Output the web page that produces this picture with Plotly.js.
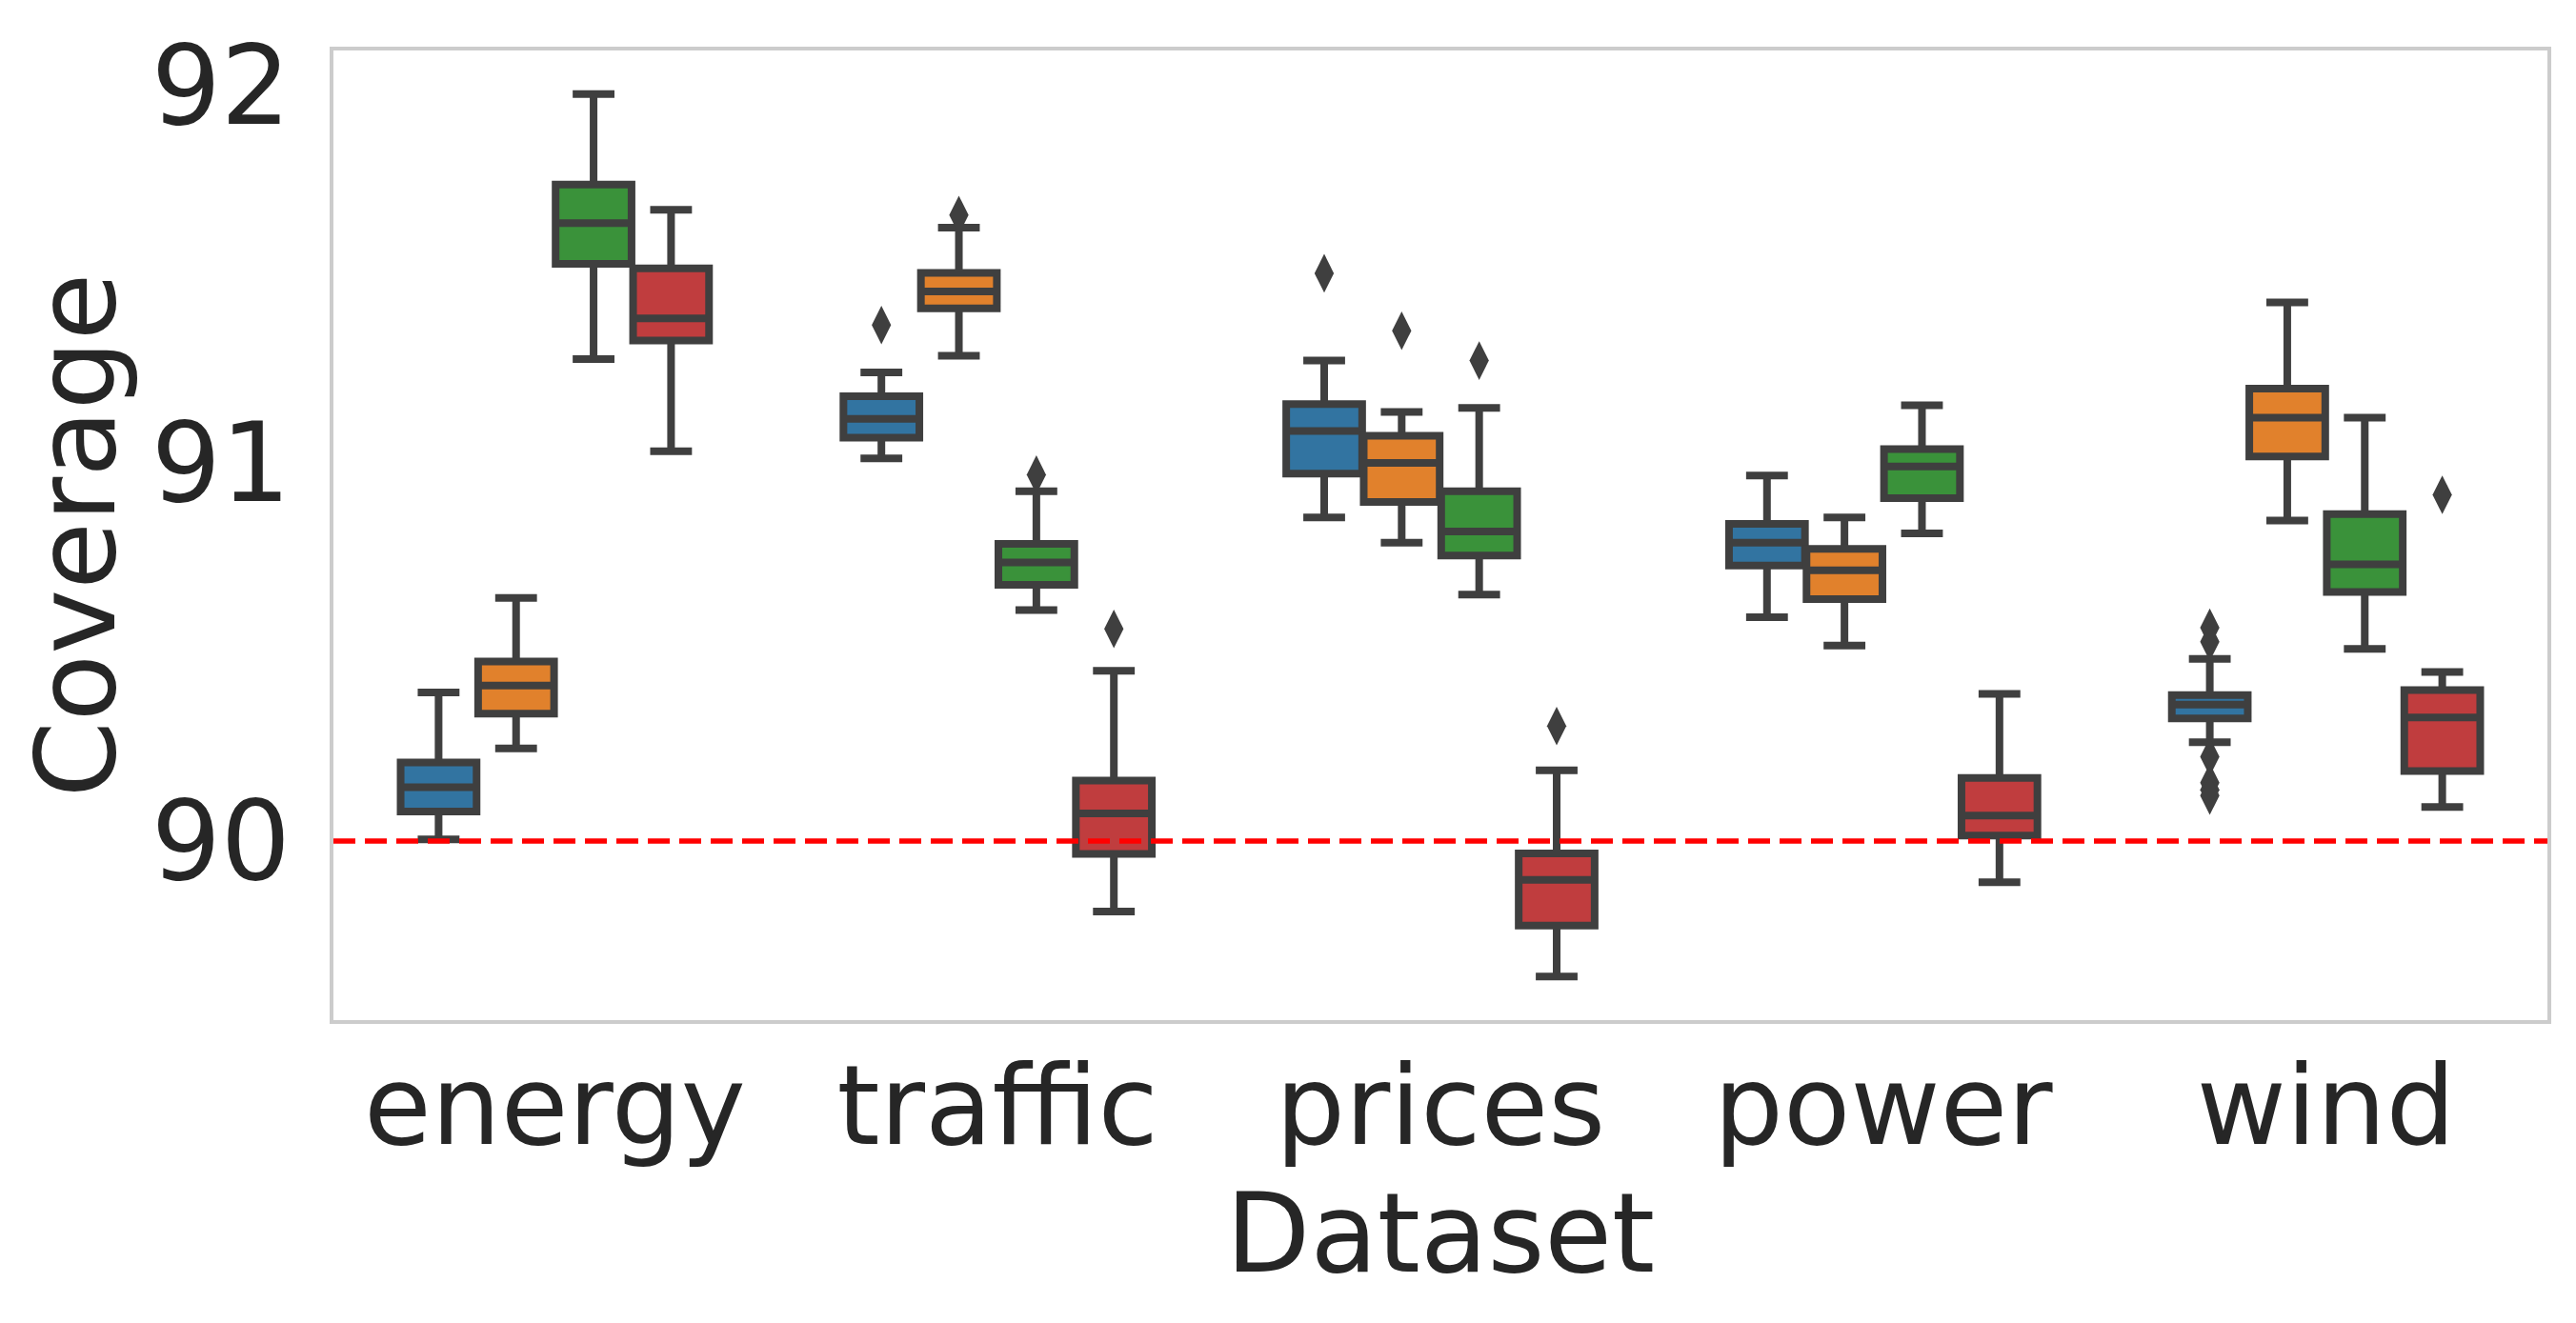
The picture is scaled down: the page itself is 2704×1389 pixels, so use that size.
<!DOCTYPE html>
<html>
<head>
<meta charset="utf-8">
<script src="https://cdn.plot.ly/plotly-3.0.1.min.js"></script>
<style>
  html, body { margin: 0; padding: 0; background: #ffffff; }
  #chart { width: 2704px; height: 1389px; }
</style>
</head>
<body>
<div id="chart"></div>
<script>
// ---- data ----
const datasets = ['energy', 'traffic', 'prices', 'power', 'wind'];
const seriesNames = ['Method 1', 'Method 2', 'Method 3', 'Method 4'];
const seriesColors = ['#3274a1', '#e1812c', '#3a923a', '#c03d3e'];

// per series: values for energy, traffic, prices, power, wind
const lowerWhisker = [
  [90.004, 91.012, 90.856, 90.592, 90.261],
  [90.245, 91.284, 90.789, 90.517, 90.848],
  [91.275, 90.611, 90.652, 90.814, 90.508],
  [91.031, 89.813, 89.641, 89.891, 90.090]
];
const quartile1 = [
  [90.078, 91.067, 90.972, 90.729, 90.324],
  [90.337, 91.409, 90.897, 90.640, 91.017],
  [91.527, 90.678, 90.755, 90.907, 90.659],
  [91.324, 89.966, 89.776, 90.014, 90.185]
];
const medians = [
  [90.142, 91.117, 91.085, 90.789, 90.361],
  [90.411, 91.454, 91.000, 90.716, 91.120],
  [91.635, 90.737, 90.819, 90.991, 90.732],
  [91.383, 90.073, 89.897, 90.067, 90.327]
];
const quartile3 = [
  [90.2075, 91.177, 91.156, 90.839, 90.386],
  [90.475, 91.503, 91.072, 90.773, 91.197],
  [91.737, 90.786, 90.925, 91.037, 90.865],
  [91.515, 90.160, 89.967, 90.167, 90.399]
];
const upperWhisker = [
  [90.393, 91.240, 91.271, 90.967, 90.482],
  [90.643, 91.623, 91.135, 90.856, 91.425],
  [91.976, 90.925, 91.146, 91.153, 91.120],
  [91.670, 90.450, 90.187, 90.389, 90.447]
];

// outliers
const outlierDataset = ['traffic', 'traffic', 'traffic', 'traffic',
                        'prices', 'prices', 'prices', 'prices',
                        'wind', 'wind', 'wind', 'wind', 'wind', 'wind', 'wind'];
const outlierSeries  = [0, 1, 2, 3,
                        0, 1, 2, 3,
                        0, 0, 0, 0, 0, 0, 3];
const outlierValue   = [91.365, 91.656, 90.969, 90.561,
                        91.502, 91.350, 91.271, 90.304,
                        90.564, 90.527, 90.223, 90.154, 90.135, 90.120, 90.916];

const referenceLevel = 90;
const yTicks = [90, 91, 92];

// ---- layout helpers (dodge like seaborn, width 0.7 split by 4 hues) ----
const groupWidth = 0.7;
const nHue = seriesNames.length;
const hueStep = groupWidth / nHue;
const hueOffset = seriesNames.map((_, h) => -groupWidth / 2 + hueStep * (h + 0.5));
const boxWidth = hueStep * 0.98;

const edge = '#3f3f3f';
const textColor = '#262626';
const fontFamily = 'DejaVu Sans, sans-serif';
const fontSize = 115;

const traces = seriesNames.map((name, h) => ({
  type: 'box',
  name: name,
  x: datasets.map((_, i) => i + hueOffset[h]),
  q1: quartile1[h],
  median: medians[h],
  q3: quartile3[h],
  lowerfence: lowerWhisker[h],
  upperfence: upperWhisker[h],
  width: boxWidth,
  whiskerwidth: 0.55,
  boxpoints: false,
  fillcolor: seriesColors[h],
  line: { color: edge, width: 8 },
  hoverinfo: 'y',
  showlegend: false
}));

traces.push({
  type: 'scatter',
  mode: 'markers',
  x: outlierDataset.map((d, k) => datasets.indexOf(d) + hueOffset[outlierSeries[k]]),
  y: outlierValue,
  marker: { symbol: 'diamond-tall', size: 29, color: edge, line: { width: 0 } },
  hoverinfo: 'y',
  showlegend: false
});

const layout = {
  width: 2704,
  height: 1389,
  margin: { l: 350, r: 30, t: 53, b: 318 },
  paper_bgcolor: '#ffffff',
  plot_bgcolor: '#ffffff',
  font: { family: fontFamily, color: textColor, size: fontSize },
  showlegend: false,
  xaxis: {
    type: 'linear',
    range: [-0.5, datasets.length - 0.5],
    tickvals: datasets.map((_, i) => i),
    ticktext: datasets,
    ticks: '',
    ticklen: 0,
    showgrid: false,
    zeroline: false,
    showline: true,
    linecolor: '#cccccc',
    linewidth: 4,
    mirror: true,
    tickfont: { family: fontFamily, size: fontSize, color: textColor },
    ticklabelstandoff: -12,
    title: { text: 'Dataset', font: { family: fontFamily, size: fontSize, color: textColor }, standoff: 0 }
  },
  yaxis: {
    range: [89.526, 92.0915],
    tickvals: yTicks,
    ticktext: yTicks.map(String),
    ticks: '',
    ticklen: 0,
    showgrid: false,
    zeroline: false,
    showline: true,
    linecolor: '#cccccc',
    linewidth: 4,
    mirror: true,
    tickfont: { family: fontFamily, size: fontSize, color: textColor },
    ticklabelstandoff: 18,
    title: { text: 'Coverage', font: { family: fontFamily, size: fontSize, color: textColor }, standoff: 0 }
  },
  shapes: [{
    type: 'line',
    xref: 'paper', x0: 0, x1: 1,
    yref: 'y', y0: referenceLevel, y1: referenceLevel,
    line: { color: '#ff0000', width: 5.5, dash: '23px,10px' },
    layer: 'above'
  }]
};

Plotly.newPlot('chart', traces, layout, { displayModeBar: false, staticPlot: true });
</script>
</body>
</html>
